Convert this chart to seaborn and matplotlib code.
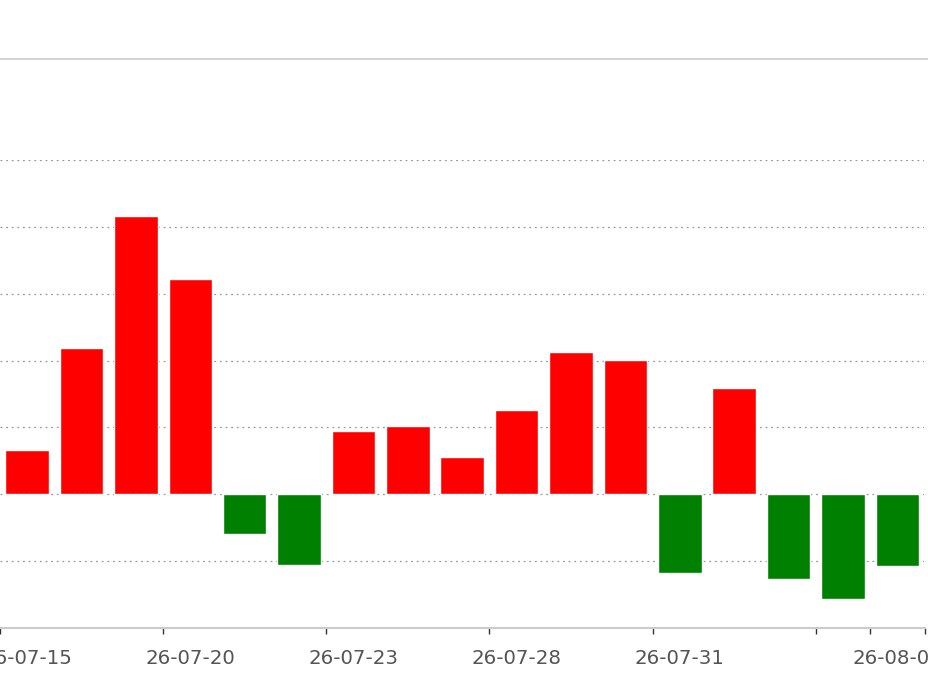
import numpy as np
import pandas as pd
import seaborn as sns
import matplotlib.pyplot as plt
from matplotlib.lines import Line2D

# daily change, one bar per trading day
dates = ['26-07-15', '26-07-16', '26-07-17', '26-07-20', '26-07-21', '26-07-22',
         '26-07-23', '26-07-24', '26-07-27', '26-07-28', '26-07-29', '26-07-30',
         '26-07-31', '26-08-03', '26-08-04', '26-08-05', '26-08-06']
values = [0.67, 2.19, 4.16, 3.22, -0.59, -1.06, 0.95, 1.02, 0.56, 1.26,
          2.13, 2.01, -1.17, 1.59, -1.26, -1.56, -1.08]
shown_labels = ['26-07-15', '26-07-20', '26-07-23', '26-07-28', '26-07-31', '26-08-06']

df = pd.DataFrame({'date': dates, 'value': values})
df['dir'] = np.where(df['value'] >= 0, 'up', 'down')

sns.set_style('white')
plt.rcParams['font.family'] = ['DejaVu Sans']

fig = plt.figure(figsize=(9.29, 6.97), dpi=100)
ax = fig.add_axes([0.0, 0.099, 924.5 / 929, 0.6714])

sns.barplot(data=df, x='date', y='value', hue='dir', dodge=False, width=0.8,
            palette={'up': '#ff0000', 'down': '#008000'}, saturation=1,
            legend=False, ax=ax, zorder=3)

ax.set_xlim(-0.5, len(dates) - 0.5)
ax.set_ylim(-2, 5)
ax.set_yticks(range(-1, 6))
ax.set_yticklabels([])
ax.tick_params(axis='y', length=0)
ax.yaxis.grid(True, color='#999999', linestyle=(0, (1.5, 3)), linewidth=0.9)
ax.set_axisbelow(True)

# labels at some days, ticks on category boundaries
pos = [dates.index(d) for d in shown_labels]
ax.set_xticks(pos)
ax.set_xticklabels(shown_labels)
ax.tick_params(axis='x', length=0, pad=15, labelsize=14.2, labelcolor='#555555')
ax.set_xticks([-0.5, 2.5, 5.5, 8.5, 11.5, 14.5, 15.5, 16.5], minor=True)
ax.tick_params(axis='x', which='minor', bottom=True, length=4.5, width=1,
               color='#333333', direction='out')

for s in ['left', 'right', 'top']:
    ax.spines[s].set_visible(False)
ax.spines['bottom'].set_color('#cccccc')
ax.spines['bottom'].set_linewidth(1.5)
ax.set_xlabel('')
ax.set_ylabel('')

# thin separator line above the chart
fig.add_artist(Line2D([0, 1], [1 - 58.5 / 697, 1 - 58.5 / 697], color='#cccccc', linewidth=1.2))

fig.savefig('out.png', dpi=100)
